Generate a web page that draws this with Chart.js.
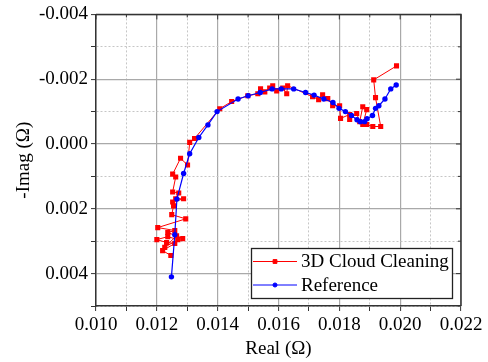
<!DOCTYPE html>
<html><head><meta charset="utf-8">
<script src="https://cdn.jsdelivr.net/npm/chart.js@4.4.1/dist/chart.umd.min.js"></script>
<style>html,body{margin:0;padding:0;background:#fff}#wrap{width:488px;height:362px}</style>
</head><body><div id="wrap"><canvas id="c" width="488" height="362"></canvas></div>
<script>
// ---- data (Ω) ----
const seriesLabels = ['3D Cloud Cleaning', 'Reference'];
const cleaningReal = [0.01246,0.01219,0.01259,0.01232,0.01200,0.01236,0.01269,0.01226,0.01265,0.01285,
  0.01236,0.01259,0.01203,0.01295,0.01249,0.01255,0.01252,0.01288,0.01262,0.01272,
  0.01252,0.01262,0.01252,0.01278,0.01301,0.01308,0.01324,0.01407,0.01446,0.01499,
  0.01532,0.01541,0.01555,0.01571,0.01581,0.01594,0.01614,0.01627,0.01630,0.01712,
  0.01732,0.01745,0.01762,0.01778,0.01801,0.01804,0.01834,0.01834,0.01857,0.01867,
  0.01877,0.01890,0.01877,0.01890,0.01910,0.01936,0.01919,0.01913,0.01988];
const cleaningImag = [0.00344,0.00329,0.00307,0.00304,0.00295,0.00286,0.00295,0.00319,0.00283,0.00292,
  0.00273,0.00267,0.00258,0.00231,0.00218,0.00191,0.00179,0.00169,0.00169,0.00151,
  0.00148,0.00102,0.00093,0.00044,0.00065,-0.00005,-0.00017,-0.00109,-0.00131,-0.00149,
  -0.00155,-0.00170,-0.00161,-0.00173,-0.00180,-0.00164,-0.00173,-0.00155,-0.00180,-0.00146,
  -0.00137,-0.00152,-0.00140,-0.00118,-0.00118,-0.00079,-0.00091,-0.00076,-0.00094,-0.00069,
  -0.00115,-0.00106,-0.00060,-0.00060,-0.00054,-0.00054,-0.00143,-0.00198,-0.00241];
const referenceReal = [0.01248,0.01259,0.01266,0.01288,0.01308,0.01338,0.01368,0.01398,0.01467,0.01500,
  0.01540,0.01579,0.01609,0.01650,0.01689,0.01717,0.01749,0.01779,0.01799,0.01820,
  0.01840,0.01858,0.01869,0.01883,0.01891,0.01909,0.01919,0.01930,0.01950,0.01969,0.01987];
const referenceImag = [0.00410,0.00280,0.00170,0.00091,0.00030,-0.00020,-0.00059,-0.00100,-0.00139,-0.00149,
  -0.00159,-0.00170,-0.00170,-0.00170,-0.00159,-0.00151,-0.00139,-0.00128,-0.00110,-0.00100,
  -0.00088,-0.00075,-0.00069,-0.00069,-0.00078,-0.00088,-0.00110,-0.00118,-0.00139,-0.00170,-0.00182];
const realAxisRange = [0.010, 0.022];
const imagAxisRange = [-0.004, 0.005];
const tickStep = 0.001;
const axisTitles = ['Real (Ω)', '-Imag (Ω)'];

const FONT = '"Liberation Serif", "Times New Roman", serif';
const toPoints = (xs, ys) => xs.map((x, i) => ({x: x, y: ys[i]}));
const isMajor = v => Math.abs(Math.round(v * 1000)) % 2 === 0;
const fmt = v => { const s = (Math.round(v * 1000) / 1000).toFixed(3); return s === '-0.000' ? '0.000' : s; };

function gridOpts() {
  return {
    color: c => (c.tick && isMajor(c.tick.value)) ? '#a9a9a9' : '#c6c6c6',
    lineWidth: c => (c.tick && isMajor(c.tick.value)) ? 1.2 : 1,
    tickColor: '#333', tickLength: 5, tickWidth: 1, drawOnChartArea: true
  };
}
function borderOpts() {
  return { display: true, color: '#333', width: 1.5,
    dash: c => (c.tick && !isMajor(c.tick.value)) ? [2, 2] : [] };
}

const framePlugin = {
  id: 'frame',
  afterDatasetsDraw(chart) {
    const {ctx, chartArea: a, scales} = chart;
    ctx.save();
    ctx.strokeStyle = '#333'; ctx.lineWidth = 1.5;
    ctx.beginPath(); ctx.moveTo(a.left, a.top); ctx.lineTo(a.right, a.top); ctx.lineTo(a.right, a.bottom); ctx.stroke();
    ctx.lineWidth = 1;
    scales.x.ticks.forEach(t => {
      const px = scales.x.getPixelForValue(t.value), len = isMajor(t.value) ? 5 : 3;
      ctx.beginPath(); ctx.moveTo(px, a.top); ctx.lineTo(px, a.top + len); ctx.stroke();
    });
    scales.y.ticks.forEach(t => {
      const py = scales.y.getPixelForValue(t.value), len = isMajor(t.value) ? 5 : 3;
      ctx.beginPath(); ctx.moveTo(a.right, py); ctx.lineTo(a.right - len, py); ctx.stroke();
    });
    ctx.restore();
  }
};

const legendPlugin = {
  id: 'boxLegend',
  afterDraw(chart) {
    const {ctx, chartArea: a} = chart;
    const w = 201, h = 50;
    const left = Math.round(a.right - 9 - w), top = Math.round(a.bottom - 8 - h);
    ctx.save();
    ctx.fillStyle = '#fff'; ctx.fillRect(left, top, w, h);
    ctx.strokeStyle = '#222'; ctx.lineWidth = 1.3; ctx.strokeRect(left + 0.5, top + 0.5, w, h);
    chart.data.datasets.forEach((ds, i) => {
      const cy = top + 13.5 + i * 23.5;
      ctx.strokeStyle = ds.borderColor; ctx.lineWidth = 1;
      ctx.beginPath(); ctx.moveTo(left + 2, cy); ctx.lineTo(left + 46, cy); ctx.stroke();
      ctx.fillStyle = ds.backgroundColor;
      Chart.helpers.drawPoint(ctx, {pointStyle: ds.pointStyle, radius: ds.pointRadius * 0.75, borderWidth: 1, rotation: 0}, left + 24, cy);
      ctx.fillStyle = '#000'; ctx.font = '19px ' + FONT; ctx.textBaseline = 'middle'; ctx.textAlign = 'left';
      ctx.fillText(ds.label, left + 50, cy + 1);
    });
    ctx.restore();
  }
};

new Chart(document.getElementById('c'), {
  type: 'scatter',
  data: {
    datasets: [
      { label: seriesLabels[0], data: toPoints(cleaningReal, cleaningImag), showLine: true, tension: 0,
        borderColor: '#ff0000', backgroundColor: '#ff0000', borderWidth: 1,
        pointStyle: 'rect', pointRadius: 3.6, pointBorderWidth: 0, order: 1 },
      { label: seriesLabels[1], data: toPoints(referenceReal, referenceImag), showLine: true, tension: 0,
        borderColor: '#0000ff', backgroundColor: '#0000ff', borderWidth: 1.2,
        pointStyle: 'circle', pointRadius: 2.7, pointBorderWidth: 0, order: 0 }
    ]
  },
  options: {
    responsive: false, animation: false, devicePixelRatio: 1,
    layout: { padding: { top: 12, right: 27, left: 0, bottom: 0 } },
    plugins: { legend: { display: false }, tooltip: { enabled: false } },
    scales: {
      x: {
        type: 'linear', min: realAxisRange[0], max: realAxisRange[1],
        grid: gridOpts(), border: borderOpts(),
        ticks: { stepSize: tickStep, autoSkip: false, maxRotation: 0, padding: 3, color: '#000',
          font: { family: FONT, size: 19 }, callback: v => isMajor(v) ? fmt(v) : '' },
        title: { display: true, text: axisTitles[0], color: '#000', font: { family: FONT, size: 19 }, padding: { top: 0, bottom: 2 } },
        afterFit: s => { s.height = 56; }
      },
      y: {
        type: 'linear', min: imagAxisRange[0], max: imagAxisRange[1], reverse: true,
        grid: gridOpts(), border: borderOpts(),
        ticks: { stepSize: tickStep, autoSkip: false, padding: 3, color: '#000',
          font: { family: FONT, size: 19 }, callback: v => isMajor(v) ? fmt(v) : '' },
        title: { display: true, text: axisTitles[1], color: '#000', font: { family: FONT, size: 19 }, padding: { top: 13, bottom: 0 } },
        afterFit: s => { s.width = 96; }
      }
    }
  },
  plugins: [framePlugin, legendPlugin]
});
</script>
</body></html>
